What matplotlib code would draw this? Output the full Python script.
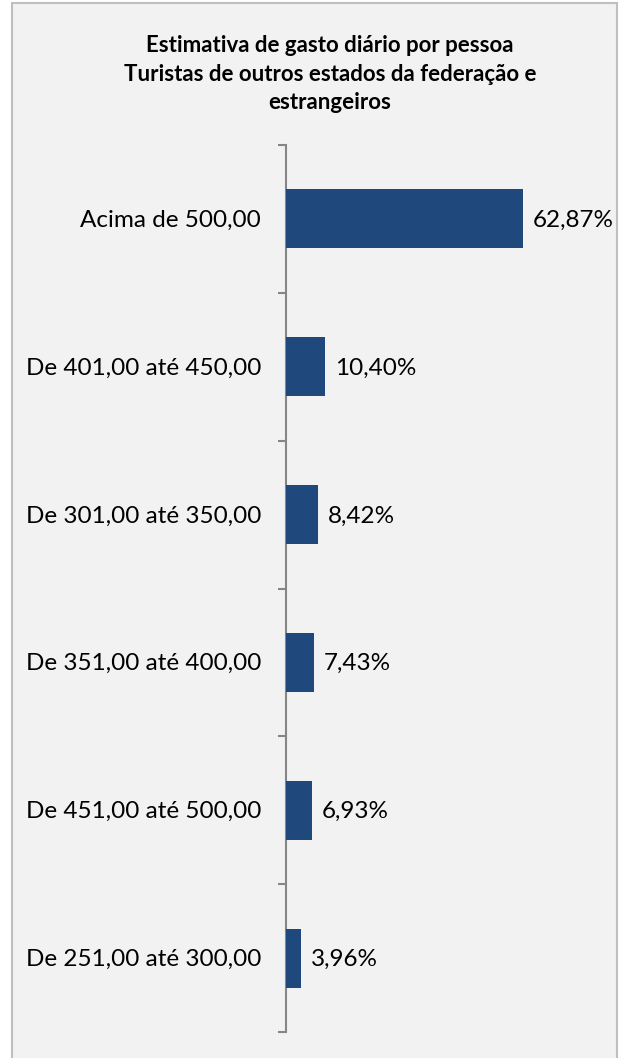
import matplotlib
matplotlib.use("Agg")
import matplotlib.pyplot as plt
from matplotlib.patches import Rectangle
import numpy as np

categories = ["Acima de 500,00", "De 401,00 até 450,00", "De 301,00 até 350,00",
              "De 351,00 até 400,00", "De 451,00 até 500,00", "De 251,00 até 300,00"]
values = [62.87, 10.40, 8.42, 7.43, 6.93, 3.96]
value_labels = ["62,87%", "10,40%", "8,42%", "7,43%", "6,93%", "3,96%"]
title = "Estimativa de gasto diário por pessoa\nTuristas de outros estados da federação e\nestrangeiros"

W, H = 625, 1058
fig = plt.figure(figsize=(W/100, H/100), dpi=100, facecolor="white")

# chart area frame (background axes)
bg = fig.add_axes([0, 0, 1, 1], zorder=-5)
bg.set_xlim(0, W)
bg.set_ylim(H, 0)
bg.axis("off")
bg.add_patch(Rectangle((12, 3), 617 - 12, H + 10, facecolor="#f2f2f2",
                       edgecolor="#bfbfbf", linewidth=1.5))

font = "Lato"
ax_left, ax_right = 286, 610
ax_top, ax_bottom = 145, 1032
ax = fig.add_axes([ax_left/W, (H-ax_bottom)/H, (ax_right-ax_left)/W, (ax_bottom-ax_top)/H])
ax.set_facecolor("none")

n = len(categories)
y = np.arange(n)
ax.barh(y, values, height=0.4, color="#1f497d", zorder=3)
ax.set_ylim(n - 0.5, -0.5)
px_per_unit = 3.77
ax.set_xlim(0, (ax_right - ax_left) / px_per_unit)

for yi, v, lab in zip(y, values, value_labels):
    ax.annotate(lab, (v, yi), xytext=(7, -1), textcoords="offset points",
                va="center", ha="left", fontsize=17.5, family=font, color="black")

for yi, c in zip(y, categories):
    ax.annotate(c, (0, yi), xytext=(-18, -1), textcoords="offset points",
                va="center", ha="right", fontsize=17.5, family=font, color="black",
                annotation_clip=False)

for s in ["top", "right", "bottom"]:
    ax.spines[s].set_visible(False)
ax.spines["left"].set_color("#868686")
ax.spines["left"].set_linewidth(1.5)
ax.set_xticks([])
ax.set_yticks(np.arange(n + 1) - 0.5)
ax.set_yticklabels([])
ax.tick_params(axis="y", length=6, width=1.5, color="#868686", direction="out")

fig.text(330/W, 1 - 35/H, title, ha="center", va="top", fontsize=16,
         fontweight="bold", family=font, linespacing=1.45)

fig.savefig("out.png", dpi=100, facecolor=fig.get_facecolor())
